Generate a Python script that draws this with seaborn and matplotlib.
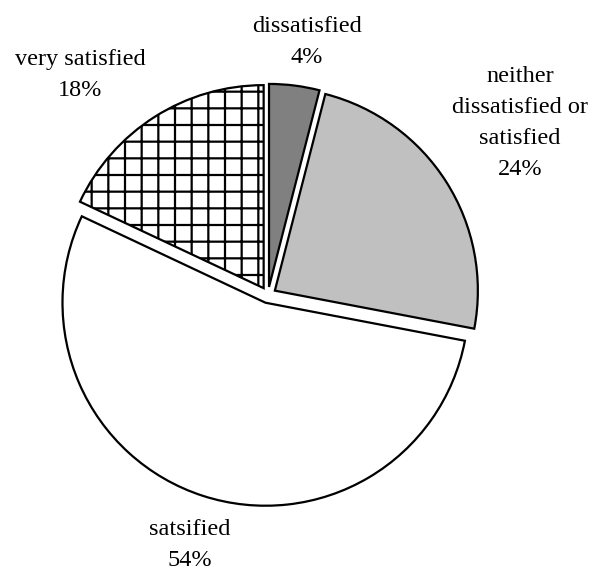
import matplotlib
matplotlib.use("Agg")
import matplotlib.pyplot as plt
import seaborn as sns
import numpy as np

sns.set_theme(style="white")
plt.rcParams['font.family'] = ['Liberation Serif', 'DejaVu Serif']
plt.rcParams['hatch.linewidth'] = 1.6

categories = ["dissatisfied", "neither\ndissatisfied or\nsatisfied", "satsified", "very satisfied"]
values = [4, 24, 54, 18]
pct_labels = ["4%", "24%", "54%", "18%"]

colors = ["#808080", "#c0c0c0", "#ffffff", "#ffffff"]
hatches = [None, None, None, "+"]

W, H = 593, 572
fig = plt.figure(figsize=(W / 100, H / 100), dpi=100)
ax = fig.add_axes([0, 0, 1, 1])

scale = 203.0
cx, cy = 268.0, 295.0

wedges, _ = ax.pie(values, startangle=90, counterclock=False, colors=colors,
                   explode=[0.04] * 4, radius=1.0,
                   wedgeprops=dict(edgecolor="black", linewidth=1.6))
for w, h in zip(wedges, hatches):
    if h:
        w.set_hatch(h)
ax.set_aspect("auto")
ax.set_xlim(-cx / scale, (W - cx) / scale)
ax.set_ylim(-(H - cy) / scale, cy / scale)
ax.axis("off")

# label positions in pixels (centre of text block)
label_pos = [(307, 42), (520, 123), (190, 545), (80, 75)]
for cat, pct, (px, py) in zip(categories, pct_labels, label_pos):
    ax.text((px - cx) / scale, (cy - py) / scale, f"{cat}\n{pct}",
            ha="center", va="center", fontsize=17.5, linespacing=1.62,
            color="black")

fig.savefig("out.png", dpi=100)
